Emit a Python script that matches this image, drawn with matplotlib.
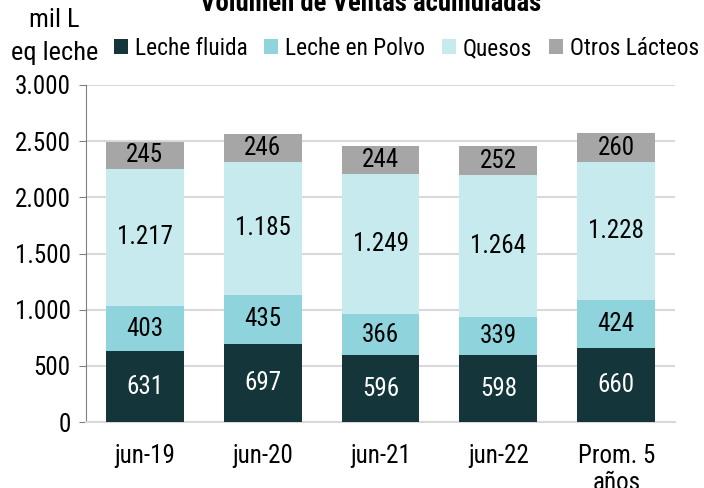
import matplotlib
matplotlib.use("Agg")
import matplotlib.pyplot as plt
from matplotlib.ticker import FuncFormatter
import numpy as np

plt.rcParams['font.family'] = ['Roboto Condensed', 'Liberation Sans Narrow', 'Roboto', 'DejaVu Sans']

# data (mil L eq leche)
categorias = ['jun-19', 'jun-20', 'jun-21', 'jun-22', 'Prom. 5\naños']
leche_fluida = [631, 697, 596, 598, 660]
leche_polvo = [403, 435, 366, 339, 424]
quesos = [1217, 1185, 1249, 1264, 1228]
otros = [245, 246, 244, 252, 260]

series = [
    ('Leche fluida', leche_fluida, '#14353a', 'white'),
    ('Leche en Polvo', leche_polvo, '#8fd4dc', 'black'),
    ('Quesos', quesos, '#c6eaee', 'black'),
    ('Otros Lácteos', otros, '#a6a6a6', 'black'),
]

def miles(v, pos=None):
    return f'{int(v):,}'.replace(',', '.')

fig = plt.figure(figsize=(7.04, 4.88), dpi=100)
ax = fig.add_axes([0.122, 0.135, 0.837, 0.691])

x = np.arange(len(categorias))
base = np.zeros(len(categorias))
for nombre, vals, color, tcolor in series:
    vals = np.array(vals)
    ax.bar(x, vals, 0.66, bottom=base, color=color, label=nombre, zorder=3)
    for xi, b, v in zip(x, base, vals):
        ax.text(xi, b + v / 2, miles(v), ha='center', va='center',
                fontsize=18, color=tcolor, zorder=4)
    base += vals

ax.set_xlim(-0.5, 4.5)
ax.set_ylim(0, 3000)
ax.set_yticks(range(0, 3001, 500))
ax.yaxis.set_major_formatter(FuncFormatter(miles))
ax.set_xticks(x)
ax.set_xticklabels(categorias, fontsize=18, va='top', linespacing=1.15)
ax.tick_params(axis='y', labelsize=18, length=5, color='#808080', pad=6)
ax.tick_params(axis='x', length=0, pad=16)
ax.grid(axis='y', color='#d9d9d9', linewidth=1.5, zorder=0)

for s in ['top', 'right']:
    ax.spines[s].set_visible(False)
ax.spines['left'].set_color('#808080')
ax.spines['bottom'].set_color('#d9d9d9')
ax.spines['bottom'].set_linewidth(1.5)

fig.text(0.527, 0.992, 'Volumen de Ventas acumuladas', ha='center', va='center',
         fontsize=19.3, fontweight='bold')
fig.text(0.077, 0.925, 'mil L\neq leche', ha='center', va='center',
         fontsize=19, linespacing=1.45)

ax.legend(loc='center left', bbox_to_anchor=(0.047, 1.108), ncol=4, frameon=False,
          fontsize=16.8, handlelength=0.6, handleheight=0.6, handletextpad=0.3,
          columnspacing=0.72, borderaxespad=0, borderpad=0)

fig.savefig('out.png', dpi=100)
